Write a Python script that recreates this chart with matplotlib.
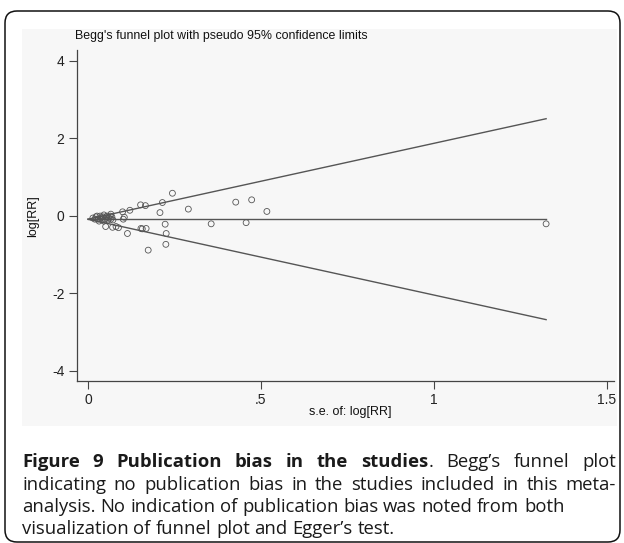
import matplotlib
matplotlib.use('Agg')
import matplotlib.pyplot as plt
from matplotlib.patches import FancyBboxPatch, Rectangle
from matplotlib.transforms import IdentityTransform

# ---- data ----
se = [0.244, 0.427, 0.473, 0.290, 0.208, 0.215, 0.152, 0.166, 0.121, 0.100,
      0.066, 0.105, 0.102, 0.457, 0.356, 0.223, 0.051, 0.071, 0.081, 0.088,
      0.153, 0.157, 0.168, 0.114, 0.226, 0.225, 0.174, 0.517, 1.324,
      0.014, 0.023, 0.029, 0.035, 0.038, 0.043, 0.046, 0.049, 0.052, 0.055,
      0.058, 0.061, 0.064, 0.066, 0.032, 0.040, 0.026, 0.020, 0.069, 0.072, 0.046]
logrr = [0.58, 0.35, 0.41, 0.17, 0.08, 0.34, 0.28, 0.26, 0.14, 0.10,
         0.04, -0.04, -0.09, -0.18, -0.21, -0.22, -0.28, -0.30, -0.28, -0.31,
         -0.33, -0.34, -0.33, -0.46, -0.46, -0.74, -0.89, 0.11, -0.21,
         -0.06, -0.03, -0.09, -0.01, -0.06, -0.03, 0.02, -0.09, -0.03, -0.01,
         -0.11, -0.06, -0.01, -0.09, -0.14, -0.11, -0.01, -0.09, -0.03, -0.11, -0.14]
pooled = -0.09
z95 = 1.96
xticks = [0, 0.5, 1, 1.5]
xticklabels = ['0', '.5', '1', '1.5']
yticks = [-4, -2, 0, 2, 4]
yticklabels = ['-4', '-2', '0', '2', '4']

title = "Begg's funnel plot with pseudo 95% confidence limits"
ylabel = "log[RR]"
xlabel = "s.e. of: log[RR]"

W, H = 624, 543
fig = plt.figure(figsize=(W / 100, H / 100), dpi=100)
fig.patch.set_facecolor('white')


def fx(px):
    return px / W


def fy(py):
    return 1 - py / H


# outer rounded frame and light graph region
frame = FancyBboxPatch((5, H - 542), 615, 531, boxstyle='round,pad=0,rounding_size=12',
                       transform=IdentityTransform(), fill=False, ec='#111111', lw=1.1)
fig.add_artist(frame)
bg = Rectangle((22, H - 426), 595, 397, transform=IdentityTransform(),
               fc='#f7f7f7', ec='none', zorder=0)
fig.add_artist(bg)

TF = 'Liberation Sans'
ax = fig.add_axes([fx(77), fy(381), fx(614) - fx(77), fy(50) - fy(381)])
ax.set_facecolor('none')
for s in ['top', 'right']:
    ax.spines[s].set_visible(False)
for s in ['left', 'bottom']:
    ax.spines[s].set_color('#444444')
    ax.spines[s].set_linewidth(0.9)

semax = max(se)
ax.plot([0, semax], [pooled, pooled], color='#555555', lw=1.0, zorder=2)
ax.plot([0, semax], [pooled, pooled + z95 * semax], color='#555555', lw=1.0, zorder=2)
ax.plot([0, semax], [pooled, pooled - z95 * semax], color='#555555', lw=1.0, zorder=2)
ax.scatter(se, logrr, s=18, facecolors='none', edgecolors='#555555', linewidths=0.6, zorder=3)

ax.set_xlim((77 - 88) / 346, (614 - 88) / 346)
ax.set_ylim(-4.27, 4.28)
ax.set_xticks(xticks)
ax.set_xticklabels(xticklabels, family=TF)
ax.set_yticks(yticks)
ax.set_yticklabels(yticklabels, family=TF)
ax.tick_params(length=6, width=0.8, color='#444444', labelsize=10, pad=3, labelcolor='#222222')

fig.text(fx(75), fy(36), title, family=TF, fontsize=8.9, va='center', ha='left', color='#111111')
fig.text(fx(33), fy(216), ylabel, family=TF, fontsize=9, rotation=90, va='center', ha='center', color='#111111')
fig.text(fx(350), fy(412), xlabel, family=TF, fontsize=9, va='center', ha='center', color='#111111')

# ---- caption, justified lines ----
CF = 'Open Sans'
CS = 13.3
caption_lines = [
    ([[("Figure", 'bold')], [("9", 'bold')], [("Publication", 'bold')], [("bias", 'bold')],
      [("in", 'bold')], [("the", 'bold')], [("studies", 'bold'), (".", 'normal')],
      [("Begg\u2019s", 'normal')], [("funnel", 'normal')], [("plot", 'normal')]], True, 467),
    ([[(w, 'normal')] for w in "indicating no publication bias in the studies included in this meta-".split()], True, 489.5),
    ([[(w, 'normal')] for w in "analysis. No indication of publication bias was noted from both".split()], False, 512),
    ([[(w, 'normal')] for w in "visualization of funnel plot and Egger\u2019s test.".split()], False, 534.5),
]

renderer = fig.canvas.get_renderer()
t1 = fig.text(0, 0, "a a", family=CF, fontsize=CS)
t2 = fig.text(0, 0, "aa", family=CF, fontsize=CS)
space_w = t1.get_window_extent(renderer).width - t2.get_window_extent(renderer).width
t1.remove()
t2.remove()

x0, x1 = 22, 616
for words, justify, base in caption_lines:
    measured = []
    total = 0
    for word in words:
        pieces = []
        ww = 0
        for txt, wt in word:
            t = fig.text(0, fy(base), txt, family=CF, fontsize=CS, fontweight=wt,
                         va='baseline', ha='left', color='#1a1a1a')
            w = t.get_window_extent(renderer).width
            pieces.append((t, w))
            ww += w
        measured.append(pieces)
        total += ww
    gap = (x1 - x0 - total) / (len(words) - 1) if justify else space_w
    x = x0
    for pieces in measured:
        for t, w in pieces:
            t.set_x(fx(x))
            x += w
        x += gap

fig.savefig('out.png', dpi=100)
